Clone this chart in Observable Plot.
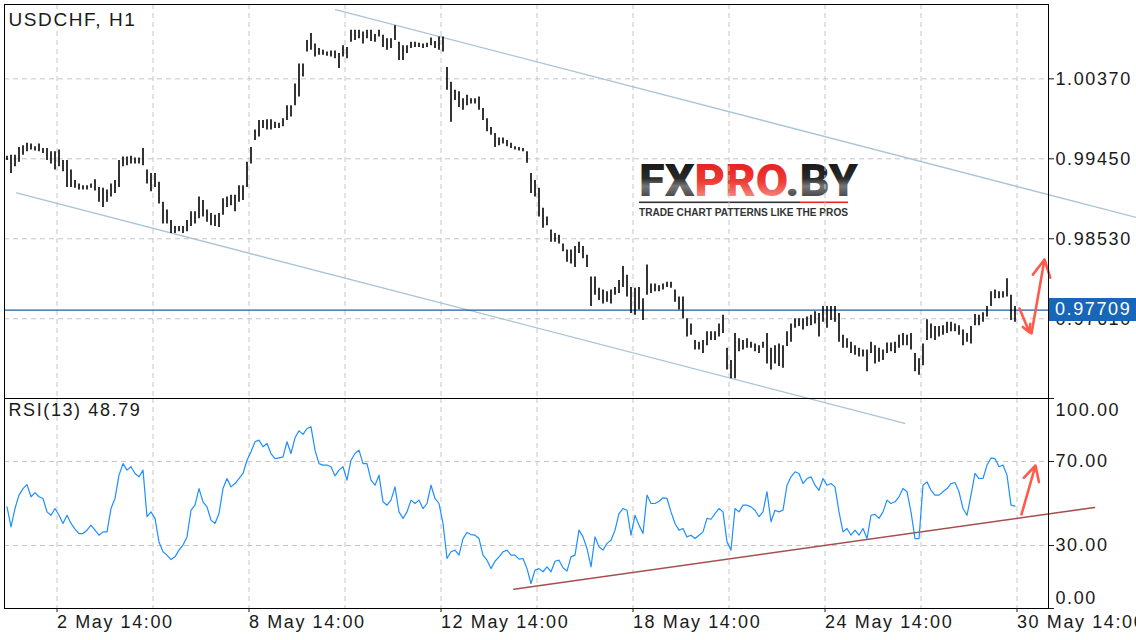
<!DOCTYPE html>
<html>
<head>
<meta charset="utf-8">
<script src="https://cdn.jsdelivr.net/npm/d3@7"></script>
<script src="https://cdn.jsdelivr.net/npm/@observablehq/plot@0.6"></script>
<style>
html, body { margin: 0; padding: 0; background: #fff; }
#chart { position: relative; width: 1136px; height: 640px; overflow: hidden; font-family: "Liberation Sans", Arial, sans-serif; color: #1a1a1a; }
#chart > svg { position: absolute; left: 0; }
#chart svg.plotsvg text { letter-spacing: 1.6px; }
#chart g[aria-label="title"] text { letter-spacing: 0px; }
#chart g[aria-label="rsi title"] text { letter-spacing: 1.4px; }
#pricebox { position: absolute; left: 1049px; width: 81px; height: 23px; padding-left: 6px; background: #1766b8; color: #fff; font-size: 18px; line-height: 23px; letter-spacing: 1.6px; z-index: 5; }
</style>
</head>
<body>
<div id="chart"></div>
<script>
// ---------- data ----------
const symbolTitle = "USDCHF, H1";
const rsiPeriod = 13;
const lastClose = 0.97709;
const lastRsi = 48.79;
const seriesStart = "2017-05-01T12:00:00Z"; // trading hour 0
const firstBarHour = 1;
const barStepHours = 2;

const priceHigh = [
0.9948,0.9949,0.9949,0.9958,0.9960,0.9963,0.9962,0.9959,0.9962,0.9957,
0.9957,0.9953,0.9953,0.9955,0.9943,0.9943,0.9932,0.9920,0.9916,0.9914,
0.9914,0.9916,0.9921,0.9912,0.9911,0.9909,0.9916,0.9920,0.9943,0.9947,
0.9947,0.9948,0.9946,0.9946,0.9957,0.9932,0.9928,0.9928,0.9918,0.9895,
0.9886,0.9874,0.9867,0.9867,0.9867,0.9874,0.9884,0.9884,0.9901,0.9897,
0.9886,0.9882,0.9880,0.9882,0.9899,0.9901,0.9903,0.9903,0.9914,0.9914,
0.9941,0.9958,0.9978,0.9989,0.9989,0.9990,0.9990,0.9987,0.9986,0.9991,
1.0006,1.0006,1.0031,1.0054,1.0054,1.0081,1.0089,1.0077,1.0072,1.0070,
1.0068,1.0069,1.0069,1.0066,1.0075,1.0073,1.0093,1.0093,1.0093,1.0091,
1.0093,1.0093,1.0088,1.0093,1.0087,1.0083,1.0083,1.0098,1.0079,1.0075,
1.0075,1.0079,1.0079,1.0078,1.0077,1.0078,1.0084,1.0080,1.0085,1.0085,
1.0050,1.0033,1.0024,1.0022,1.0014,1.0018,1.0014,1.0014,1.0016,1.0003,
0.9991,0.9981,0.9974,0.9969,0.9969,0.9966,0.9963,0.9959,0.9958,0.9957,
0.9953,0.9928,0.9920,0.9911,0.9888,0.9878,0.9863,0.9859,0.9857,0.9847,
0.9840,0.9840,0.9844,0.9849,0.9844,0.9834,0.9809,0.9809,0.9796,0.9794,
0.9792,0.9794,0.9797,0.9805,0.9821,0.9811,0.9797,0.9796,0.9797,0.9784,
0.9823,0.9801,0.9801,0.9799,0.9801,0.9803,0.9803,0.9794,0.9786,0.9786,
0.9761,0.9755,0.9736,0.9734,0.9736,0.9746,0.9746,0.9746,0.9755,0.9765,
0.9727,0.9713,0.9744,0.9738,0.9736,0.9738,0.9734,0.9732,0.9730,0.9734,
0.9744,0.9727,0.9730,0.9732,0.9730,0.9746,0.9755,0.9761,0.9761,0.9761,
0.9763,0.9765,0.9769,0.9767,0.9775,0.9775,0.9775,0.9775,0.9767,0.9742,
0.9738,0.9734,0.9730,0.9727,0.9725,0.9725,0.9734,0.9730,0.9727,0.9725,
0.9733,0.9733,0.9734,0.9742,0.9744,0.9742,0.9744,0.9721,0.9715,0.9732,
0.9760,0.9755,0.9752,0.9752,0.9753,0.9757,0.9757,0.9755,0.9753,0.9748,
0.9744,0.9752,0.9766,0.9765,0.9768,0.9775,0.9792,0.9794,0.9792,0.9792,0.9807,0.9788,0.9775
];
const priceLow = [
0.9943,0.9928,0.9936,0.9941,0.9949,0.9953,0.9955,0.9954,0.9953,0.9951,
0.9943,0.9939,0.9932,0.9936,0.9930,0.9912,0.9912,0.9911,0.9909,0.9909,
0.9909,0.9911,0.9908,0.9895,0.9889,0.9895,0.9901,0.9905,0.9912,0.9936,
0.9937,0.9939,0.9939,0.9939,0.9937,0.9916,0.9907,0.9912,0.9893,0.9870,
0.9870,0.9859,0.9859,0.9861,0.9859,0.9861,0.9867,0.9870,0.9876,0.9878,
0.9872,0.9868,0.9867,0.9866,0.9880,0.9889,0.9891,0.9884,0.9895,0.9897,
0.9912,0.9939,0.9966,0.9970,0.9980,0.9978,0.9978,0.9980,0.9980,0.9982,
0.9989,0.9993,1.0006,1.0016,1.0039,1.0068,1.0070,1.0062,1.0064,1.0064,
1.0063,1.0062,1.0060,1.0049,1.0062,1.0060,1.0079,1.0081,1.0083,1.0077,
1.0083,1.0080,1.0079,1.0085,1.0073,1.0070,1.0072,1.0081,1.0058,1.0058,
1.0066,1.0072,1.0073,1.0073,1.0072,1.0073,1.0075,1.0072,1.0070,1.0068,
1.0024,0.9987,1.0012,1.0004,1.0001,1.0006,1.0008,1.0008,1.0001,0.9989,
0.9976,0.9972,0.9958,0.9960,0.9962,0.9959,0.9957,0.9955,0.9954,0.9953,
0.9940,0.9905,0.9901,0.9878,0.9865,0.9868,0.9849,0.9849,0.9847,0.9838,
0.9826,0.9824,0.9820,0.9836,0.9830,0.9820,0.9775,0.9788,0.9782,0.9778,
0.9780,0.9778,0.9788,0.9790,0.9797,0.9786,0.9767,0.9765,0.9771,0.9759,
0.9788,0.9790,0.9792,0.9792,0.9794,0.9797,0.9796,0.9780,0.9771,0.9761,
0.9740,0.9742,0.9725,0.9725,0.9721,0.9730,0.9736,0.9736,0.9740,0.9744,
0.9702,0.9692,0.9692,0.9723,0.9725,0.9727,0.9727,0.9723,0.9721,0.9727,
0.9709,0.9702,0.9709,0.9706,0.9704,0.9729,0.9734,0.9750,0.9752,0.9748,
0.9752,0.9753,0.9755,0.9740,0.9757,0.9750,0.9759,0.9757,0.9734,0.9727,
0.9727,0.9721,0.9719,0.9717,0.9717,0.9700,0.9721,0.9709,0.9711,0.9713,
0.9721,0.9723,0.9721,0.9727,0.9730,0.9730,0.9725,0.9700,0.9696,0.9707,
0.9736,0.9738,0.9736,0.9740,0.9742,0.9744,0.9746,0.9746,0.9742,0.9730,
0.9734,0.9732,0.9753,0.9753,0.9757,0.9763,0.9775,0.9784,0.9784,0.9785,0.9786,0.9759,0.9757
];
const rsiValues = [
48.4,38.9,47.6,54.0,57.1,59.0,53.2,55.2,53.2,52.4,
46.0,44.4,47.6,44.4,40.5,44.4,40.5,37.8,35.7,35.7,
37.3,39.7,37.3,34.9,36.5,36.5,47.6,52.4,63.5,69.0,
65.9,67.5,64.3,62.7,65.9,43.7,46.0,42.9,31.7,27.0,
25.4,23.3,24.6,27.8,30.2,34.1,46.8,49.2,57.1,50.8,
48.4,42.1,40.5,45.2,57.1,61.9,57.9,59.5,61.9,64.3,
70.6,74.6,79.4,80.2,77.0,78.6,73.8,71.4,71.7,72.2,
79.4,73.8,81.3,84.6,82.9,85.7,86.5,75.4,69.0,68.3,
68.3,67.5,63.2,65.9,67.5,61.1,70.6,73.8,75.4,69.0,
69.0,61.1,58.7,63.5,50.8,49.2,51.6,57.9,46.0,42.9,
46.0,51.6,50.0,51.6,47.6,50.0,58.7,52.4,50.0,40.5,
23.8,27.0,27.8,25.4,33.3,36.2,35.2,34.9,33.3,25.4,
23.0,19.0,22.5,24.6,27.0,27.8,25.4,25.4,23.5,23.8,
19.0,11.9,18.3,19.0,17.5,19.8,17.5,22.5,23.0,19.4,
17.8,24.6,25.4,37.3,34.1,28.6,19.8,34.1,29.4,27.8,
31.0,32.5,37.3,45.2,47.6,46.8,34.9,44.4,39.7,35.7,
54.0,50.0,50.0,51.1,52.7,52.4,46.0,40.5,37.3,38.1,
34.1,34.9,33.3,34.9,36.5,42.9,42.5,45.2,47.6,46.0,
31.7,27.8,47.6,46.0,49.2,49.2,48.4,46.8,43.7,46.0,
55.6,41.3,46.8,46.0,46.8,58.7,62.7,65.1,64.3,59.5,
61.9,62.7,58.7,56.3,61.9,58.7,59.5,57.9,46.0,36.5,
38.1,34.9,37.3,34.9,38.1,33.3,44.4,44.8,42.9,46.0,
51.6,50.0,50.8,53.2,57.1,55.6,46.0,33.3,33.3,58.7,
60.3,56.3,54.0,54.0,55.6,57.1,59.5,60.0,55.6,47.6,
44.4,54.0,64.3,61.9,61.9,68.3,71.7,71.4,67.5,68.3,63.5,49.2,48.79
];

const priceTicks = [1.00370, 0.99450, 0.98530, 0.97610];
const rsiTicks = [100, 70, 30, 0];
const labelTimes = ["2017-05-02T14:00:00Z","2017-05-08T14:00:00Z","2017-05-12T14:00:00Z","2017-05-18T14:00:00Z","2017-05-24T14:00:00Z","2017-05-30T14:00:00Z"];
const gridTimes = ["2017-05-02T14:00:00Z","2017-05-04T14:00:00Z","2017-05-08T14:00:00Z","2017-05-10T14:00:00Z","2017-05-12T14:00:00Z","2017-05-16T14:00:00Z","2017-05-18T14:00:00Z","2017-05-22T14:00:00Z","2017-05-24T14:00:00Z","2017-05-26T14:00:00Z","2017-05-30T14:00:00Z"];

// drawn annotations (trading-hour index, value)
const channelUpper = [[165.25, 1.01167], [565.75, 0.98775]];
const channelLower = [[5.75, 0.99059], [449.9, 0.96406]];
const rsiSupport = [[254.4, 9.19], [544.75, 48.1]];
const priceArrows = [
  {h1: 507.25, v1: 0.97728, h2: 512.25, v2: 0.97452},
  {h1: 513.25, v1: 0.97441, h2: 519.75, v2: 0.98292}
];
const rsiArrows = [{h1: 508.25, v1: 44.8, h2: 515.25, v2: 68.1}];

// ---------- derived ----------
const t0 = new Date(seriesStart);
function tradingHour(iso) {
  const t = new Date(iso); let n = 0;
  for (let d = t0.getTime(); d < t.getTime(); d += 3600e3) {
    const wd = new Date(d).getUTCDay();
    if (wd !== 0 && wd !== 6) n++;
  }
  return n;
}
const fmt = d3.utcFormat("%-d %b %H:%M");
const labelHours = labelTimes.map(tradingHour);
const labelText = new Map(labelTimes.map((s, i) => [labelHours[i], fmt(new Date(s))]));
const gridHours = gridTimes.map(tradingHour);

const bars = priceHigh.map((hi, i) => ({h: firstBarHour + i * barStepHours, high: hi, low: priceLow[i]}));
const rsi = rsiValues.map((v, i) => ({h: firstBarHour + i * barStepHours, v}));

const xDomain = [-0.25, 521.75];
const gridStyle = {stroke: "#c6c6c6", strokeOpacity: 1, strokeDasharray: "5,4", strokeWidth: 1};
const redArrow = "#ff5a4c";

const pricePlot = Plot.plot({
  width: 1136, height: 400,
  marginLeft: 4, marginRight: 88, marginTop: 4, marginBottom: 2,
  x: {domain: xDomain, axis: null},
  y: {domain: [0.96693, 1.01225], axis: null},
  style: {background: "transparent", overflow: "visible", fontFamily: "Liberation Sans, Arial, sans-serif", color: "#1a1a1a"},
  marks: [
    Plot.gridX({ticks: gridHours, ...gridStyle}),
    Plot.gridY({ticks: priceTicks, ...gridStyle}),
    Plot.line(channelUpper, {x: d => d[0], y: d => d[1], stroke: "#a9c4d6", strokeWidth: 1.3}),
    Plot.line(channelLower, {x: d => d[0], y: d => d[1], stroke: "#a9c4d6", strokeWidth: 1.3}),
    Plot.ruleY([lastClose], {stroke: "#1b5fa8", strokeWidth: 1.2}),
    Plot.ruleX(bars, {x: "h", y1: "low", y2: "high", stroke: "#000", strokeWidth: 1.6}),
    Plot.arrow(priceArrows, {x1: "h1", y1: "v1", x2: "h2", y2: "v2", stroke: redArrow, strokeWidth: 2.6, headLength: 11, headAngle: 55}),
    Plot.frame({stroke: "#000", strokeWidth: 1}),
    Plot.axisY({anchor: "right", ticks: priceTicks, tickFormat: d => d.toFixed(5), tickSize: 5, tickPadding: 2, fontSize: 18}),
    Plot.text([symbolTitle], {text: d => d, frameAnchor: "top-left", dx: 4, dy: 8, lineAnchor: "top", textAnchor: "start", fontSize: 19, ariaLabel: "title"})
  ]
});
pricePlot.classList.add("plotsvg");
pricePlot.style.top = "0px";
pricePlot.style.zIndex = "3";

const rsiPlot = Plot.plot({
  width: 1136, height: 244,
  marginLeft: 4, marginRight: 88, marginTop: 2, marginBottom: 32,
  x: {domain: xDomain, axis: null},
  y: {domain: [0, 100], axis: null},
  style: {background: "transparent", overflow: "visible", fontFamily: "Liberation Sans, Arial, sans-serif", color: "#1a1a1a"},
  marks: [
    Plot.gridX({ticks: gridHours, ...gridStyle}),
    Plot.gridY({ticks: [70, 30], ...gridStyle}),
    Plot.line(rsiSupport, {x: d => d[0], y: d => d[1], stroke: "#a5504e", strokeWidth: 1.6}),
    Plot.line(rsi, {x: "h", y: "v", stroke: "#1e8fff", strokeWidth: 1.2}),
    Plot.arrow(rsiArrows, {x1: "h1", y1: "v1", x2: "h2", y2: "v2", stroke: redArrow, strokeWidth: 2.6, headLength: 11, headAngle: 55}),
    Plot.frame({stroke: "#000", strokeWidth: 1}),
    Plot.axisY({anchor: "right", ticks: rsiTicks, tickFormat: () => "", tickSize: 5}),
    Plot.text(rsiTicks.filter(d => d === 100), {y: d => d, text: d => d.toFixed(2), frameAnchor: "right", dx: 7, dy: 12, textAnchor: "start", fontSize: 18}),
    Plot.text(rsiTicks.filter(d => d > 0 && d < 100), {y: d => d, text: d => d.toFixed(2), frameAnchor: "right", dx: 7, textAnchor: "start", fontSize: 18}),
    Plot.text(rsiTicks.filter(d => d === 0), {y: d => d, text: d => d.toFixed(2), frameAnchor: "right", dx: 7, dy: -10, textAnchor: "start", fontSize: 18}),
    Plot.axisX({anchor: "bottom", ticks: labelHours, tickFormat: h => labelText.get(h), tickSize: 4, tickPadding: 3, textAnchor: "start", fontSize: 18}),
    Plot.text([`RSI(${rsiPeriod}) ${lastRsi.toFixed(2)}`], {text: d => d, frameAnchor: "top-left", dx: 4, dy: 5, lineAnchor: "top", textAnchor: "start", fontSize: 18, ariaLabel: "rsi title"})
  ]
});
rsiPlot.classList.add("plotsvg");
rsiPlot.style.top = "396px";
rsiPlot.style.zIndex = "2";

const chart = document.getElementById("chart");

// watermark logo
const svgNS = "http://www.w3.org/2000/svg";
const logo = document.createElementNS(svgNS, "svg");
logo.setAttribute("width", 1136); logo.setAttribute("height", 640);
logo.style.top = "0px"; logo.style.zIndex = "1";
logo.innerHTML = `
<defs>
  <linearGradient id="gBlack" x1="0" y1="0" x2="0" y2="1">
    <stop offset="0" stop-color="#111"/><stop offset="0.45" stop-color="#2a2a2a"/><stop offset="0.6" stop-color="#777"/><stop offset="1" stop-color="#1a1a1a"/>
  </linearGradient>
  <linearGradient id="gRed" x1="0" y1="0" x2="0" y2="1">
    <stop offset="0" stop-color="#e3161d"/><stop offset="0.5" stop-color="#ee3a34"/><stop offset="1" stop-color="#f8b9a8"/>
  </linearGradient>
</defs>
<text x="639" y="196" font-family="Roboto, 'Liberation Sans', Arial, sans-serif" font-weight="900" font-size="44" textLength="219" lengthAdjust="spacingAndGlyphs"><tspan fill="url(#gBlack)">FX</tspan><tspan fill="url(#gRed)">PRO</tspan><tspan fill="url(#gBlack)">.BY</tspan></text>
<rect x="639" y="201.5" width="161" height="1.6" fill="#333"/>
<rect x="800" y="201.5" width="48" height="1.6" fill="#e8262a"/>
<text x="639" y="216" font-family="'Liberation Sans', Arial, sans-serif" font-weight="700" font-size="10" fill="#333" textLength="209" lengthAdjust="spacingAndGlyphs">TRADE CHART PATTERNS LIKE THE PROS</text>`;

chart.appendChild(logo);
chart.appendChild(rsiPlot);
chart.appendChild(pricePlot);

// current price label positioned with the plot's own y scale
let yPix;
try { yPix = pricePlot.scale("y").apply(lastClose); }
catch (e) { yPix = d3.scaleLinear([0.96693, 1.01225], [398, 4])(lastClose); }
const box = document.createElement("div");
box.id = "pricebox";
box.textContent = lastClose.toFixed(5);
box.style.top = (yPix - 11.5) + "px";
chart.appendChild(box);
</script>
</body>
</html>
